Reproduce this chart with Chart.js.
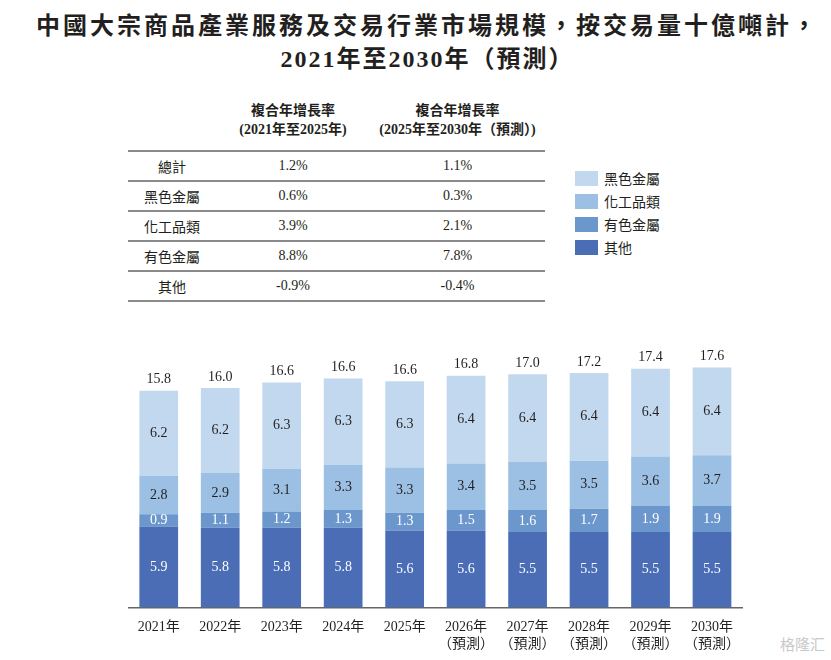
<!DOCTYPE html>
<html>
<head>
<meta charset="utf-8">
<script src="https://cdn.jsdelivr.net/npm/chart.js@4.4.0/dist/chart.umd.min.js"></script>
<style>
    body { margin: 0; background: #fff; width: 831px; height: 660px; overflow: hidden; position: relative; font-family: "Liberation Serif", "Noto Sans CJK TC", serif; color: #231f20; }
    .title { position: absolute; left: 12px; top: 10px; width: 831px; text-align: center; font-size: 24px; font-weight: 700; line-height: 33px; letter-spacing: 3px; }
    .title .sub { letter-spacing: 2px; }
    .cagr { position: absolute; left: 128px; top: 101px; border-collapse: collapse; font-size: 14px; }
    .cagr th { font-size: 14px; font-weight: 700; line-height: 19px; padding: 0 0 11px 0; text-align: center; white-space: nowrap; }
    .cagr td { height: 28px; text-align: center; border-bottom: 2px solid #8a8a8a; padding: 0; }
    .cagr tbody tr:first-child td { border-top: 2px solid #8a8a8a; }
    .legend { position: absolute; left: 575px; top: 171px; font-size: 14px; }
    .legend div { height: 23px; line-height: 17px; white-space: nowrap; }
    .legend span { display: inline-block; width: 23px; height: 15px; vertical-align: top; margin-right: 6px; }
    .chart-box { position: absolute; left: 128px; top: 330px; width: 616px; height: 330px; }
    .mark { position: absolute; right: 6px; bottom: 6px; font-size: 15px; color: #c9c9c9; font-family: "Noto Sans CJK SC"; }
</style>
</head>
<body>
<div class="title">中國大宗商品產業服務及交易行業市場規模，按交易量十億噸計，<br><span class="sub">2021年至2030年（預測）</span></div>

<table class="cagr">
    <thead>
        <tr><th style="width:88px"></th><th style="width:154px">複合年增長率<br>(2021年至2025年)</th><th style="width:175px">複合年增長率<br>(2025年至2030年（預測）)</th></tr>
    </thead>
    <tbody id="cagrBody"></tbody>
</table>

<div class="legend" id="legend"></div>

<div class="chart-box"><canvas id="chart1"></canvas></div>
<div class="mark">格隆汇</div>

<script>
var years = ['2021年', '2022年', '2023年', '2024年', '2025年', '2026年', '2027年', '2028年', '2029年', '2030年'];
var forecastFrom = 5;
var seriesNames = ['其他', '有色金屬', '化工品類', '黑色金屬'];
var other = [5.9, 5.8, 5.8, 5.8, 5.6, 5.6, 5.5, 5.5, 5.5, 5.5];
var nonFerrous = [0.9, 1.1, 1.2, 1.3, 1.3, 1.5, 1.6, 1.7, 1.9, 1.9];
var chemicals = [2.8, 2.9, 3.1, 3.3, 3.3, 3.4, 3.5, 3.5, 3.6, 3.7];
var ferrous = [6.2, 6.2, 6.3, 6.3, 6.3, 6.4, 6.4, 6.4, 6.4, 6.4];
var totals = [15.8, 16.0, 16.6, 16.6, 16.6, 16.8, 17.0, 17.2, 17.4, 17.6];
var colors = ['#4a6db5', '#6b97cd', '#9cc0e4', '#c2d8ef'];
var labelColors = ['#ffffff', '#ffffff', '#231f20', '#231f20'];

var cagrRows = ['總計', '黑色金屬', '化工品類', '有色金屬', '其他'];
var cagr2125 = ['1.2%', '0.6%', '3.9%', '8.8%', '-0.9%'];
var cagr2530 = ['1.1%', '0.3%', '2.1%', '7.8%', '-0.4%'];

// table
var body = document.getElementById('cagrBody');
for (var i = 0; i < cagrRows.length; i++) {
    var tr = document.createElement('tr');
    tr.innerHTML = '<td>' + cagrRows[i] + '</td><td>' + cagr2125[i] + '</td><td>' + cagr2530[i] + '</td>';
    body.appendChild(tr);
}

// legend, top to bottom as in the stack
var legend = document.getElementById('legend');
for (var j = seriesNames.length - 1; j >= 0; j--) {
    var row = document.createElement('div');
    row.innerHTML = '<span style="background:' + colors[j] + '"></span>' + seriesNames[j];
    legend.appendChild(row);
}

var labels = years.map(function(y, i) {
    return i >= forecastFrom ? [y, '（預測）'] : y;
});

var seriesData = [other, nonFerrous, chemicals, ferrous];
var datasets = seriesData.map(function(d, i) {
    return {
        label: seriesNames[i],
        data: d,
        backgroundColor: colors[i],
        borderWidth: 0,
        barPercentage: 0.63,
        categoryPercentage: 1
    };
});

var valueLabels = {
    id: 'valueLabels',
    afterDatasetsDraw: function(chart) {
        var ctx = chart.ctx;
        ctx.save();
        ctx.font = '14px "Liberation Serif", serif';
        ctx.textAlign = 'center';
        ctx.textBaseline = 'middle';
        chart.data.datasets.forEach(function(ds, di) {
            var meta = chart.getDatasetMeta(di);
            meta.data.forEach(function(bar, i) {
                ctx.fillStyle = labelColors[di];
                ctx.fillText(ds.data[i].toFixed(1), bar.x, (bar.y + bar.base) / 2);
            });
        });
        var top = chart.getDatasetMeta(chart.data.datasets.length - 1);
        ctx.fillStyle = '#231f20';
        ctx.textBaseline = 'bottom';
        top.data.forEach(function(bar, i) {
            ctx.fillText(totals[i].toFixed(1), bar.x, bar.y - 4);
        });
        ctx.restore();
    }
};

var ctx = document.getElementById('chart1');
var myChart = new Chart(ctx, {
    type: 'bar',
    data: {
        labels: labels,
        datasets: datasets
    },
    options: {
        responsive: true,
        maintainAspectRatio: false,
        animation: false,
        layout: {
            padding: { top: 10, bottom: 3, left: 0, right: 0 }
        },
        plugins: {
            legend: { display: false },
            tooltip: { enabled: false }
        },
        scales: {
            x: {
                stacked: true,
                grid: { display: false },
                border: { color: '#666', width: 1.5 },
                ticks: {
                    color: '#231f20',
                    padding: 4,
                    font: { family: '"Liberation Serif", "Noto Sans CJK TC", serif', size: 14, lineHeight: 1.2 },
                    maxRotation: 0,
                    autoSkip: false
                }
            },
            y: {
                stacked: true,
                display: false,
                min: 0,
                max: 19.5
            }
        }
    },
    plugins: [valueLabels]
});
</script>
</body>
</html>
